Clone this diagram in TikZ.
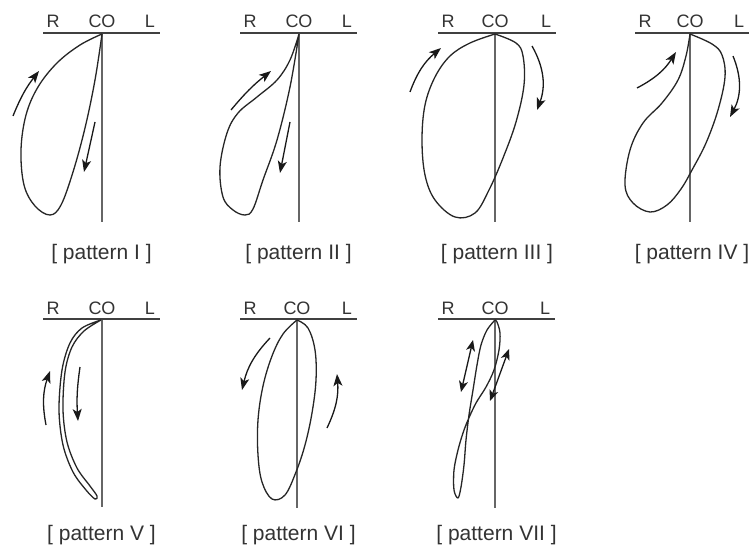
\documentclass[tikz,border=0pt]{standalone}
\usepackage{fontspec}
\setmainfont{Liberation Sans}
\usetikzlibrary{arrows.meta}
\begin{document}
\begin{tikzpicture}[x=1pt,y=-1pt,
  axisline/.style={draw=black!75,line width=2pt},
  vline/.style={draw=black!60,line width=2pt},
  loopline/.style={draw=black!85,line width=1.3pt,line join=round},
  dirarrow/.style={draw=black!90,line width=1.3pt,-{Stealth[length=12pt,width=9pt,inset=3pt]}},
  dblarrow/.style={draw=black!90,line width=1.3pt,{Stealth[length=11pt,width=9pt,inset=3pt]}-{Stealth[length=11pt,width=9pt,inset=3pt]}},
  axlab/.style={anchor=base,text=black!80,font=\fontsize{18}{20}\selectfont,inner sep=0pt},
  captext/.style={anchor=base,text=black!80,font=\fontsize{21}{24}\selectfont,inner sep=0pt}]
\useasboundingbox (0,0) rectangle (752,548);
\fill[white] (0,0) rectangle (752,548);
\newcommand\axispanel[7]{% #1 id, #2 xleft, #3 xco, #4 xright, #5 yaxis, #6 ybottom, #7 caption baseline
  \coordinate (#1-co) at (#3,#5);
  \coordinate (#1-l) at (#2,#5);
  \coordinate (#1-r) at (#4,#5);
  \coordinate (#1-b) at (#3,#6);
  \draw[vline] (#1-co) -- (#1-b);
  \draw[axisline] (#1-l) -- (#1-r);
  \node[axlab] (#1-R) at (#2+10,#5-5) {R};
  \node[axlab] (#1-CO) at (#3,#5-5) {CO};
  \node[axlab] (#1-L) at (#4-10,#5-5) {L};
  \node[captext] (#1-cap) at ({(#2+#4)/2},#7) {[ pattern #1 ]};
}
\axispanel{I}{43}{102}{160}{33}{222}{259}
\axispanel{II}{240}{299}{357}{33}{222}{259}
\axispanel{III}{438}{495}{556}{33}{222}{259}
\axispanel{IV}{635}{690}{749}{33}{222}{259}
\axispanel{V}{43}{102}{160}{319}{507}{540}
\axispanel{VI}{240}{297}{357}{319}{508}{540}
\axispanel{VII}{438}{495}{555}{319}{508}{540}

% pattern I
\draw[loopline] plot[smooth,tension=0.6] coordinates {(102,34) (80,45) (57,63) (38,87) (26,115) (21,150) (24,185) (35,206) (50,215) (61,205) (73,172) (85,128) (95,80) (102,34)};
\coordinate (I-a1) at (13,116); \coordinate (I-a2) at (39,71);
\coordinate (I-b1) at (95,122); \coordinate (I-b2) at (84,172);
\draw[dirarrow] (I-a1) to[bend left=8] (I-a2);
\draw[dirarrow] (I-b1) -- (I-b2);

% pattern II
\draw[loopline] plot[smooth,tension=0.6] coordinates {(299,34) (290,60) (277,80) (257,97) (238,113) (227,133) (220,167) (223,197) (233,210) (245,215) (253,209) (263,180) (277,140) (290,87) (299,34)};
\coordinate (II-a1) at (231,110); \coordinate (II-a2) at (271,71);
\coordinate (II-b1) at (290,122); \coordinate (II-b2) at (280,173);
\draw[dirarrow] (II-a1) to[bend left=6] (II-a2);
\draw[dirarrow] (II-b1) -- (II-b2);

% pattern III
\draw[loopline] plot[smooth,tension=0.6] coordinates {(495,34) (470,43) (450,56) (435,77) (425,105) (422,140) (425,175) (435,200) (455,217) (475,213) (489,190) (503,158) (516,122) (524,85) (523,56) (516,43) (495,34)};
\coordinate (III-a1) at (410,92); \coordinate (III-a2) at (441,48);
\coordinate (III-b1) at (532,46); \coordinate (III-b2) at (537,110);
\draw[dirarrow] (III-a1) to[bend left=15] (III-a2);
\draw[dirarrow] (III-b1) to[bend left=25] (III-b2);

% pattern IV
\draw[loopline] plot[smooth,tension=0.6] coordinates {(690,34) (686,56) (678,80) (662,103) (643,123) (630,150) (625,185) (633,203) (650,212) (667,205) (681,189) (692,170) (706,143) (718,110) (725,77) (722,55) (712,44) (690,34)};
\coordinate (IV-a1) at (637,88); \coordinate (IV-a2) at (676,52);
\coordinate (IV-b1) at (733,56); \coordinate (IV-b2) at (730,117);
\draw[dirarrow] (IV-a1) to[bend right=15] (IV-a2);
\draw[dirarrow] (IV-b1) to[bend left=25] (IV-b2);

% pattern V
\draw[loopline] plot[smooth,tension=0.55] coordinates {(101,320) (82,328) (70,343) (62,370) (59,410) (63,445) (73,472) (86,490) (95,499) (97,496) (90,486) (77,468) (67,442) (63,410) (65,372) (72,347) (84,331) (101,320)};
\coordinate (V-a1) at (46,425); \coordinate (V-a2) at (50,371);
\coordinate (V-b1) at (80,367); \coordinate (V-b2) at (78,421);
\draw[dirarrow] (V-a1) to[bend left=15] (V-a2);
\draw[dirarrow] (V-b1) to[bend right=6] (V-b2);

% pattern VI
\draw[loopline] plot[smooth,tension=0.6] coordinates {(297,320) (283,334) (272,356) (263,386) (258,420) (258,455) (262,482) (272,499) (285,495) (296,472) (305,445) (312,413) (316,380) (315,350) (308,328) (297,320)};
\coordinate (VI-a1) at (270,338); \coordinate (VI-a2) at (242,390);
\coordinate (VI-b1) at (327,428); \coordinate (VI-b2) at (337,374);
\draw[dirarrow] (VI-a1) to[bend right=15] (VI-a2);
\draw[dirarrow] (VI-b1) to[bend right=15] (VI-b2);

% pattern VII
\draw[loopline] plot[smooth,tension=0.55] coordinates {(495,320) (487,330) (481,345) (477,365) (473,390) (469,415) (466,440) (464,465) (461,487) (458,498) (454,490) (454,470) (458,450) (463,433) (468,420) (476,403) (486,387) (494,370) (499,350) (500,333) (497,322) (495,320)};
\coordinate (VII-a1) at (473,340); \coordinate (VII-a2) at (461,392);
\coordinate (VII-b1) at (509,349); \coordinate (VII-b2) at (490,401);
\draw[dblarrow] (VII-a1) -- (VII-a2);
\draw[dblarrow] (VII-b1) -- (VII-b2);
\end{tikzpicture}
\end{document}
